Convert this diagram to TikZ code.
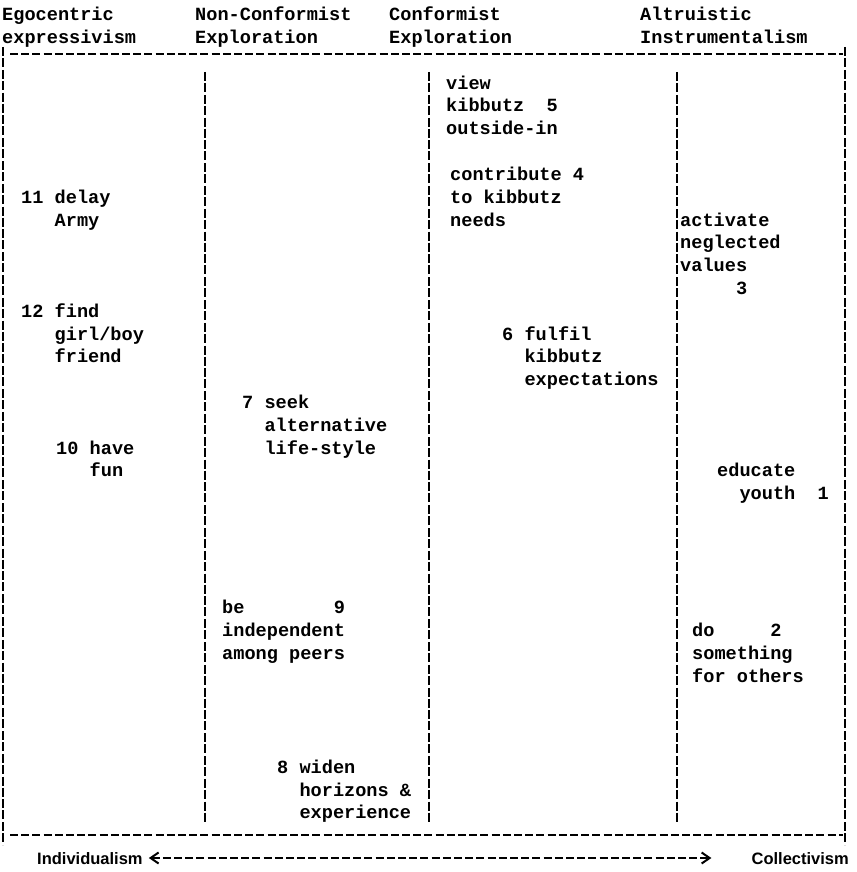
\documentclass[tikz,border=0pt]{standalone}
\usepackage{fontspec}
\newfontfamily\typefont{Liberation Mono}
\newfontfamily\axisfont{Liberation Sans}
\usepackage{tikz}
\usetikzlibrary{arrows.meta, calc, positioning}
\newcommand{\rowtop}{\rule{0pt}{16pt}}
\tikzset{
	typetext/.style={font=\typefont\bfseries\fontsize{18.6}{22.8}\selectfont, align=left, inner sep=0pt, anchor=north west}
}
\tikzset{
	axistext/.style={font=\axisfont\bfseries\fontsize{16.5}{22.8}\selectfont, inner sep=0pt}
}
\tikzset{
	vbar/.style={line width=2.6pt, dash pattern=on 9pt off 2pt on 9pt off 2.8pt}
}
\tikzset{
	hbar/.style={line width=2pt, dash pattern=on 8pt off 3.2pt}
}
\begin{document}
\begin{tikzpicture}[x=1pt, y=-1pt]
\useasboundingbox (0,0) rectangle (856,872);

\coordinate (topL) at (3,47);
\coordinate (botL) at (3,845);
\coordinate (topR) at (845,47);
\coordinate (botR) at (845,845);
\coordinate (topA) at (205,72);
\coordinate (botA) at (205,822);
\coordinate (topB) at (429,72);
\coordinate (botB) at (429,822);
\coordinate (topC) at (677,72);
\coordinate (botC) at (677,822);

% frame and column rules
\draw[vbar] (topL) -- (botL);
\draw[vbar] (topR) -- (botR);
\draw[vbar] (topA) -- (botA);
\draw[vbar] (topB) -- (botB);
\draw[vbar] (topC) -- (botC);
\draw[hbar] (10,54) -- (843,54);
\draw[hbar] (10,835) -- (843,835);

% column heads
\node[typetext] (egoHead) at (2,4.6) {\rowtop Egocentric\\expressivism};
\node[typetext] (nonHead) at (195,4.6) {\rowtop Non-Conformist\\Exploration};
\node[typetext] (conHead) at (389,4.6) {\rowtop Conformist\\Exploration};
\node[typetext] (altHead) at (640,4.6) {\rowtop Altruistic\\Instrumentalism};

% items
\node[typetext] (viewK) at (446,73) {\rowtop view\\kibbutz~~5\\outside-in};
\node[typetext] (contribK) at (450,164.2) {\rowtop contribute~4\\to~kibbutz\\needs};
\node[typetext] (delayA) at (21,187) {\rowtop 11~delay\\~~~Army};
\node[typetext] (activV) at (680,209.8) {\rowtop activate\\neglected\\values\\~~~~~3};
\node[typetext] (findF) at (21,301) {\rowtop 12~find\\~~~girl/boy\\~~~friend};
\node[typetext] (fulfilK) at (502,323.8) {\rowtop 6~fulfil\\~~kibbutz\\~~expectations};
\node[typetext] (seekA) at (242,392.2) {\rowtop 7~seek\\~~alternative\\~~life-style};
\node[typetext] (haveF) at (56,437.8) {\rowtop 10~have\\~~~fun};
\node[typetext] (educY) at (717,460.6) {\rowtop educate\\~~youth~~1};
\node[typetext] (indepP) at (222,597.4) {\rowtop be~~~~~~~~9\\independent\\among~peers};
\node[typetext] (doO) at (692,620.2) {\rowtop do~~~~~2\\something\\for~others};
\node[typetext] (widenH) at (277,757) {\rowtop 8~widen\\~~horizons~\&\\~~experience};

% axis
\node[axistext, anchor=base west] (indiv) at (37,864) {Individualism};
\node[axistext, anchor=base east] (coll) at (849,864) {Collectivism};
\draw[hbar, {Straight Barb[length=8pt,width=11pt]}-{Straight Barb[length=8pt,width=11pt]}, shorten <=6pt, shorten >=40pt]
	([yshift=6pt]indiv.base east) -- ([yshift=6pt]coll.base west);

\end{tikzpicture}
\end{document}
